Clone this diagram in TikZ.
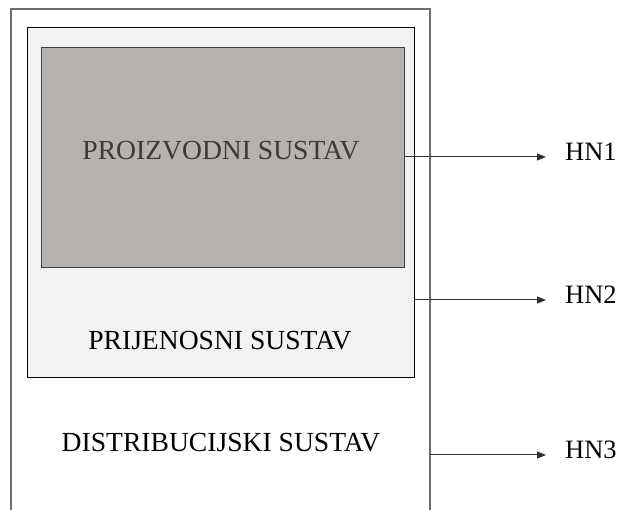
\documentclass[tikz,border=0pt]{standalone}
\usepackage{fontspec}
\setmainfont{Liberation Serif}
\usetikzlibrary{arrows.meta}
\definecolor{innerfill}{HTML}{B6B2B0}
\definecolor{midfill}{HTML}{F2F2F2}
\definecolor{outerline}{HTML}{6E6E6E}
\definecolor{innerline}{HTML}{404040}
\definecolor{arrline}{HTML}{303030}
\definecolor{ptext}{HTML}{3A3A3A}
\tikzset{
  boxlbl/.style={font=\fontsize{27.6}{32}\selectfont, inner sep=0pt},
  hnlbl/.style={font=\fontsize{26.5}{30}\selectfont, inner sep=0pt},
  sysbox/.style={inner sep=0pt, line width=1.3pt},
  arr/.style={draw=arrline, line width=1pt, -{Triangle[length=9pt,width=7pt]}},
}
\begin{document}
\begin{tikzpicture}[x=1pt,y=-1pt]
\useasboundingbox (0,0) rectangle (619,510);
% outer (distribution) box, open at the bottom
\coordinate (onw) at (11,9);
\coordinate (ose) at (430,512);
\draw[outerline, line width=1.4pt] (onw |- ose) -- (onw) -- (ose |- onw) -- (ose);
% middle (transmission) box
\node[sysbox, draw=black, fill=midfill, minimum width=387pt, minimum height=350pt, anchor=north west] (mid) at (27,27) {};
% inner (production) box
\node[sysbox, draw=innerline, fill=innerfill, minimum width=363pt, minimum height=220pt, anchor=north west] (inner) at (41,47) {};
% labels
\node[boxlbl, text=ptext] (tp) at (221,151) {PROIZVODNI SUSTAV};
\node[boxlbl] (tm) at (220,341) {PRIJENOSNI SUSTAV};
\node[boxlbl] (to) at (221,443) {DISTRIBUCIJSKI SUSTAV};
% arrow ends
\coordinate (e1) at (546,157);
\coordinate (e2) at (546,300);
\coordinate (e3) at (546,455);
\coordinate (orx) at (430,455);
\node[hnlbl, anchor=base west] (hn1) at (565,161) {HN1};
\node[hnlbl, anchor=base west] (hn2) at (565,304) {HN2};
\node[hnlbl, anchor=base west] (hn3) at (565,459) {HN3};
\draw[arr] (inner.east |- e1) -- (e1);
\draw[arr] (mid.east |- e2) -- (e2);
\draw[arr] (orx) -- (e3);
\end{tikzpicture}
\end{document}
